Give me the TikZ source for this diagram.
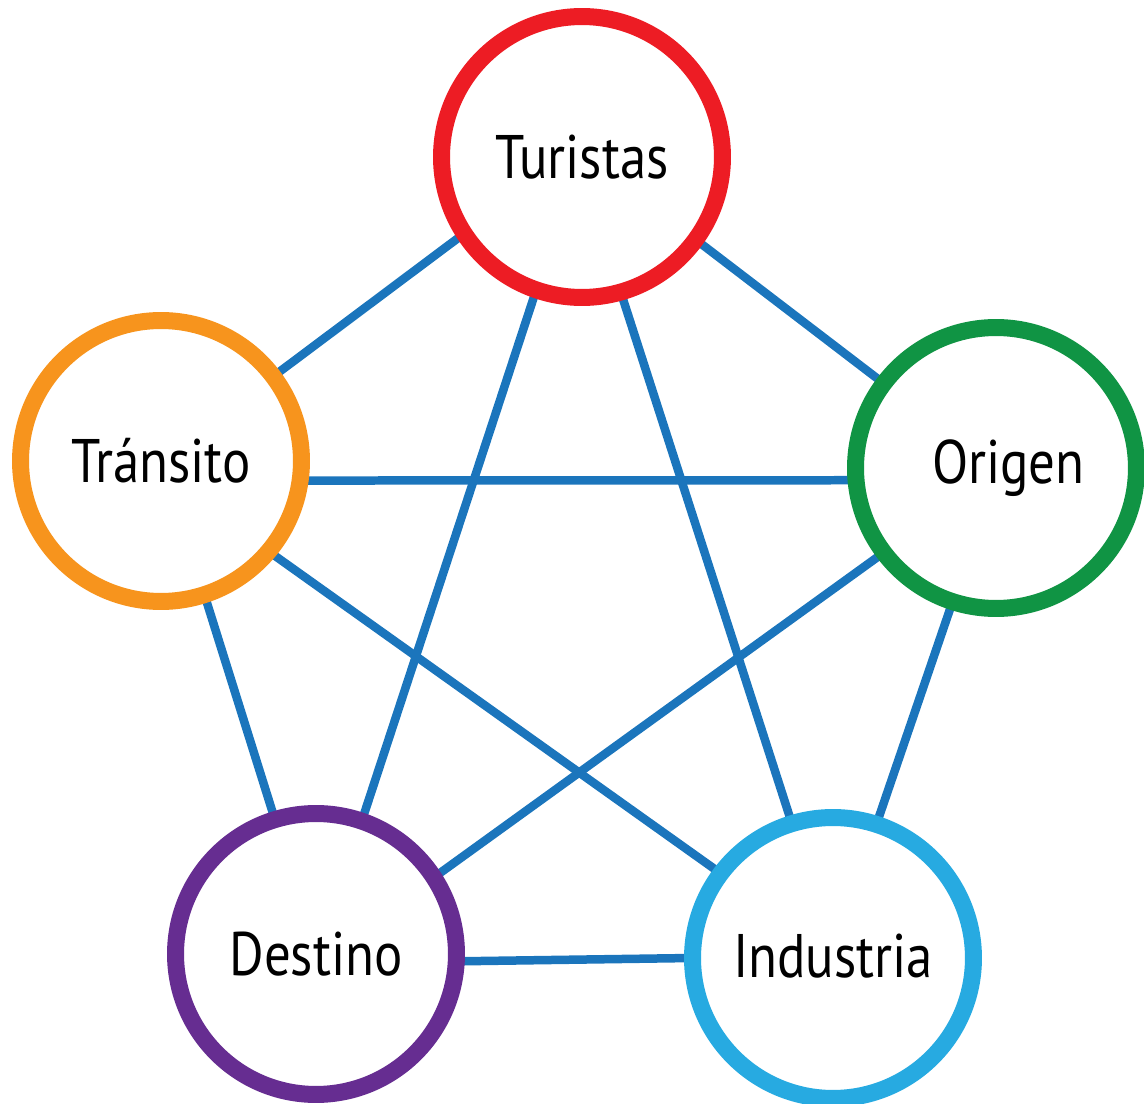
\documentclass[tikz,border=0pt]{standalone}
\usepackage{fontspec}
\setmainfont{PT Sans}[FakeStretch=0.86]
\usetikzlibrary{backgrounds}

\definecolor{turred}{HTML}{ED1C24}
\definecolor{tranorange}{HTML}{F7941D}
\definecolor{origgreen}{HTML}{109444}
\definecolor{destpurple}{HTML}{662D91}
\definecolor{indublue}{HTML}{27AAE1}
\definecolor{linkblue}{HTML}{1B75BC}

\tikzset{
	hub/.style={circle, draw, fill=white, line width=0.34cm, minimum size=5.62cm, inner sep=0pt, outer sep=0pt, font=\fontsize{35}{40}\selectfont},
	link/.style={draw=linkblue, line width=0.17cm},
}

\begin{document}
\begin{tikzpicture}[x=0.02cm, y=-0.02cm]
	\useasboundingbox (0,0) rectangle (1144,1104);

	\node[hub, draw=turred] (tur) at (582,157) {Turistas};
	\node[hub, draw=tranorange] (tran) at (161,461) {Tránsito};
	\node[hub, draw=origgreen] (orig) at (996,468) {\hspace{14pt}Origen};
	\node[hub, draw=destpurple] (dest) at (316,954) {\raisebox{-5pt}{Destino}};
	\node[hub, draw=indublue] (indu) at (833,958) {\raisebox{3pt}{Industria}\hspace{12pt}};

	\begin{scope}[on background layer]
		\draw[link] (tur.213) -- (tran.37);
		\draw[link] (tur.324) -- (orig.143);
		\draw[link] (tur.251) -- (dest.71);
		\draw[link] (tur.286) -- (indu.107);
		\draw[link] (tran.-8) -- (orig.185);
		\draw[link] (tran.288) -- (dest.107);
		\draw[link] (tran.320) -- (indu.143);
		\draw[link] (orig.217) -- (dest.33);
		\draw[link] (orig.252) -- (indu.72);
		\draw[link] (dest.357) -- (indu.180);
	\end{scope}
\end{tikzpicture}
\end{document}
